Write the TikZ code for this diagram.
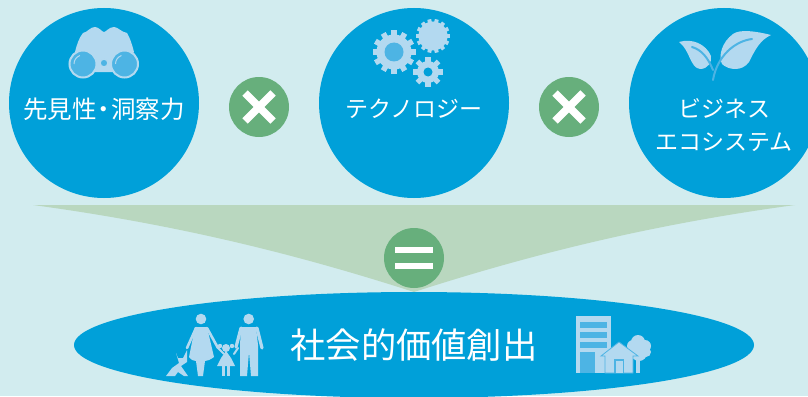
\documentclass[tikz,border=0pt]{standalone}
\usepackage{fontspec}
\setmainfont{Noto Sans CJK JP}
\usetikzlibrary{shapes, calc, positioning}

\definecolor{backtone}{HTML}{D2ECEF}
\definecolor{bluetone}{HTML}{00A0D9}
\definecolor{greentone}{HTML}{67AF7C}
\definecolor{funneltone}{HTML}{B9D7BF}
\definecolor{icontone}{HTML}{B3D9F0}
\definecolor{midtone}{HTML}{4DB4E4}

\newcommand{\gearicon}[5]{%
  \fill[icontone] (#1,#2) circle (#5);
  \foreach \toothangle in {1,...,#3} {
    \fill[icontone, shift={(#1,#2)}, rotate=\toothangle*360/#3]
      (#5-1,-1.9*#5/#3) rectangle (#4,1.9*#5/#3);
  }
}

\begin{document}
\begin{tikzpicture}[
    x=1pt, y=-1pt,
    topic/.style={circle, fill=bluetone, minimum size=190pt, inner sep=0pt},
    operator/.style={circle, fill=greentone, minimum size=60pt, inner sep=0pt},
    topiclabel/.style={text=white, font=\fontsize{23}{33}\selectfont, align=center, inner sep=0pt},
    markbar/.style={draw=white, line width=7.5pt},
    equalbar/.style={fill=white},
    limb/.style={draw=icontone, line cap=round, line join=round},
    vein/.style={draw=midtone, line width=2pt, line cap=round}
]
\useasboundingbox (0,0) rectangle (808,396);
\clip (0,0) rectangle (808,396);
\fill[backtone] (0,0) rectangle (808,396);

\fill[funneltone] (33,205) -- (795,205)
  .. controls (640,226) and (520,258) .. (414,292)
  .. controls (308,258) and (188,226) .. (33,205) -- cycle;

\node (Foresight) [topic] at (104,103) {};
\node (Technology) [topic] at (414,103) {};
\node (Ecosystem) [topic] at (724,103) {};
\node (Cross01) [operator] at (259,107) {};
\node (Cross02) [operator] at (569,107) {};
\node (Result) [ellipse, fill=bluetone, minimum width=680pt, minimum height=106pt, inner sep=0pt] at (414,345) {};
\node (Equal) [operator] at (414,258) {};

\foreach \markname in {Cross01, Cross02} {
  \draw[markbar] ($(\markname.center)+(-14,-14)$) -- ($(\markname.center)+(14,14)$);
  \draw[markbar] ($(\markname.center)+(-14,14)$) -- ($(\markname.center)+(14,-14)$);
}
\fill[equalbar] ($(Equal.center)+(-19,-11)$) rectangle ($(Equal.center)+(19,-5)$);
\fill[equalbar] ($(Equal.center)+(-19,5)$) rectangle ($(Equal.center)+(19,11)$);

\node (ForesightLabel) [topiclabel, font=\fontsize{24.5}{33}\selectfont] at (104,109) {先見性\kern-5pt・\kern-5pt洞察力};
\node (TechnologyLabel) [topiclabel] at (414,109) {テクノロジー};
\node (EcosystemLabel) [topiclabel] at (724,125) {ビジネス\\エコシステム};
\node (ResultLabel) [topiclabel, font=\fontsize{35.3}{40}\selectfont] at (414,345) {社会的価値創出};

% binoculars
\fill[icontone] (75,52) .. controls (77,44) and (79,38) .. (83,33)
  .. controls (88,32) and (90,27) .. (95,27) .. controls (99,27) and (102,32) .. (104,32)
  .. controls (106,32) and (109,27) .. (114,27) .. controls (118,27) and (121,32) .. (127,33)
  .. controls (130,38) and (132,44) .. (134,52) -- (120,72) -- (90,72) -- cycle;
\filldraw[fill=midtone, draw=icontone, line width=2pt] (83,64) circle (13.5);
\filldraw[fill=midtone, draw=icontone, line width=2pt] (124.5,64) circle (13.5);
\filldraw[fill=midtone, draw=icontone, line width=1.5pt] (104,63) circle (4);
\draw[icontone, line width=1pt] (74,64) arc (180:250:9);
\draw[icontone, line width=1pt] (115.5,64) arc (180:250:9);

% gears
\gearicon{394}{52}{12}{21.5}{17.5}
\fill[midtone] (394,52) circle (9.5);
\gearicon{433}{36}{14}{17}{14.5}
\gearicon{428}{72}{8}{15}{11}
\fill[bluetone] (428,72) circle (4.5);

% leaves
\fill[icontone] (679,42) .. controls (692,38) and (706,44) .. (711,56)
  .. controls (712,62) and (708,69) .. (700,69) .. controls (690,68) and (690,50) .. (679,42) -- cycle;
\fill[icontone] (771,35) .. controls (755,31) and (740,29) .. (733,34)
  .. controls (722,42) and (718,56) .. (722,64) .. controls (728,70) and (742,72) .. (749,62)
  .. controls (755,50) and (760,40) .. (771,35) -- cycle;
\draw[vein] (692,47) .. controls (702,50) and (708,58) .. (713,70);
\draw[vein] (752,39) .. controls (735,41) and (717,56) .. (713,80);

% family
\fill[icontone] (248.7,319) circle (5.3);
\fill[icontone] (201,319) circle (5.3);
\fill[icontone] (226,348) circle (4);
\fill[icontone] (241,327) -- (256,327) -- (258,345) -- (258,376) -- (251,376)
  -- (249,352) -- (247,376) -- (240,376) -- (240,345) -- cycle;
\draw[limb, line width=3.2pt] (241,328) -- (236,347);
\draw[limb, line width=3.2pt] (257,328) -- (262,348);
\fill[icontone] (195,327) -- (207,327) -- (214,357) .. controls (210,360) and (207,361) .. (205,361)
  -- (203,376) -- (198,376) -- (196,361) .. controls (194,361) and (191,360) .. (189,357) -- cycle;
\draw[limb, line width=2.6pt] (196,328) -- (187,348);
\draw[limb, line width=2.6pt] (207,328) -- (218,348);
\draw[limb, line width=2pt] (218,348) -- (224,354);
\draw[limb, line width=2pt] (234,354) -- (238,348);
\fill[icontone] (226,351) -- (231,358) -- (235,366) -- (217,366) -- (221,358) -- cycle;
\fill[icontone] (222,365) rectangle (225,376);
\fill[icontone] (227,365) rectangle (230,376);
\fill[icontone] (220,346) circle (2.2);
\fill[icontone] (232,346) circle (2.2);

% dog
\fill[icontone] (176,353) -- (178,358) -- (183,358) -- (187,350) -- (187,362)
  -- (181,366) -- (188,376) -- (184,376) -- (178,372) -- (175,376) -- (166,376) -- (172,368) -- (179,363) -- cycle;

% building and house
\fill[icontone] (576,316) rectangle (611,373);
\fill[midtone] (580,322) rectangle (607,328);
\fill[midtone] (580,332) rectangle (607,338);
\fill[midtone] (580,342) rectangle (607,348);
\fill[midtone] (580,352) rectangle (595,373);
\fill[icontone] (638,342) circle (7);
\fill[icontone] (633,346) circle (6);
\fill[icontone] (645,346) circle (6);
\fill[icontone] (646,352) circle (5);
\fill[icontone] (639,353) circle (8);
\fill[icontone] (636,356) rectangle (640,373);
\filldraw[fill=icontone, draw=midtone, line width=0.8pt] (601,356) -- (619,342) -- (638,356)
  -- (633,356) -- (633,373) -- (605,373) -- (605,356) -- cycle;
\fill[midtone] (614,359) rectangle (624,373);
\fill[icontone] (615.5,361) rectangle (622.5,373);

\end{tikzpicture}
\end{document}
